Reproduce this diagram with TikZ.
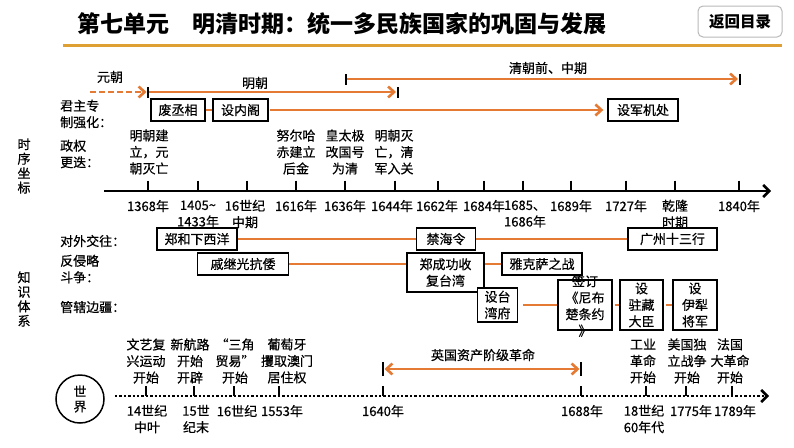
\documentclass[tikz,border=0pt]{standalone}
\usepackage{fontspec}
\newfontfamily\cjk{Noto Sans CJK SC}[FakeBold=0.5]
\newfontfamily\cjktitle{Noto Sans CJK SC}
\usetikzlibrary{arrows.meta}
\definecolor{org}{RGB}{228,122,52}
\definecolor{gold}{RGB}{222,160,50}
\begin{document}
\begin{tikzpicture}[x=1pt,y=-1pt,
  lbl/.style={font=\cjk\fontsize{13}{16.5}\selectfont, align=center, inner sep=0pt},
  vlbl/.style={font=\cjk\fontsize{13}{14.5}\selectfont, align=center, inner sep=0pt},
  bx/.style={lbl, draw=black, fill=white, line width=1.3pt, minimum height=22pt},
  oline/.style={draw=org, line width=2.6pt},
  barb/.style={-{Straight Barb[length=6pt,width=11pt]}},
  tk/.style={draw=black, line width=2.3pt},
]
\useasboundingbox[fill=white] (0,0) rectangle (794,447);

% title
\node[font=\cjktitle\bfseries\fontsize{23}{25}\selectfont, anchor=west, inner sep=0pt] (title) at (77,24) {第七单元\hspace{23pt}明清时期：统一多民族国家的巩固与发展};
\draw[gold, line width=2.8pt] (63,45.5) -- (782,45.5);
\node[draw=gray!55, rounded corners=5pt, line width=1pt, minimum width=84pt, minimum height=31pt, font=\cjktitle\bfseries\fontsize{15.5}{17}\selectfont, inner sep=0pt] (back) at (740,21.5) {返回目录};

% dynasty bars
\coordinate (ys) at (90,92);
\coordinate (ms) at (148,92);
\coordinate (me) at (398,92);
\coordinate (qs) at (346,79);
\coordinate (qe) at (740,79);
\node[lbl] (yuan) at (110,77) {元朝};
\node[lbl] (ming) at (255,83) {明朝};
\node[lbl] (qing) at (548,68) {清朝前、中期};
\draw[oline, barb, dash pattern=on 6pt off 3pt, shorten >=1.5pt] (ys) -- (ms);
\draw[oline, barb, shorten >=2pt] (ms) -- (me);
\draw[oline, barb, shorten >=2pt] (qs) -- (qe);
\draw[tk] ([yshift=-5.5pt]ms) -- ([yshift=5.5pt]ms);
\draw[tk] ([yshift=-5.5pt]me) -- ([yshift=5.5pt]me);
\draw[tk] ([yshift=-5.5pt]qs) -- ([yshift=5.5pt]qs);
\draw[tk] ([yshift=-5.5pt]qe) -- ([yshift=5.5pt]qe);

% autocracy row
\node[lbl, anchor=west, align=left] (jz) at (60,114) {君主专\\制强化：};
\node[bx, minimum width=54pt] (fcx) at (178,110) {废丞相};
\node[bx, minimum width=55pt] (snj) at (240.5,110) {设内阁};
\node[bx, minimum width=70pt] (sjj) at (643,110) {设军机处};
\draw[oline] (fcx) -- (snj);
\draw[oline, barb, shorten <=1pt, shorten >=4pt] (snj) -- (sjj);

% regime row
\node[lbl, anchor=west, align=left] (zq) at (60,154) {政权\\更迭：};
\node[vlbl] (sxzb) at (24,166) {时\\序\\坐\\标};

\node[lbl] (t1) at (149,152) {明朝建\\立，元\\朝灭亡};
\node[lbl] (t2) at (296,152) {努尔哈\\赤建立\\后金};
\node[lbl] (t3) at (345,152) {皇太极\\改国号\\为清};
\node[lbl] (t4) at (394,152) {明朝灭\\亡，清\\军入关};

% main axis
\coordinate (ax0) at (104,191);
\coordinate (ax1) at (771,191);
\draw[line width=2.6pt, -{Straight Barb[length=6pt,width=12pt]}] (ax0) -- (ax1);
\foreach \x in {148,198,247,296,345,395,438,484,523,571,626,675,739}
  \draw[tk] (\x,180.5) -- (\x,191);

\node[lbl] (d1) at (148,206) {1368年};
\node[lbl] (d2) at (198,214) {1405\textasciitilde\\1433年};
\node[lbl] (d3) at (245,214) {16世纪\\中期};
\node[lbl] (d4) at (296,206) {1616年};
\node[lbl] (d5) at (345,206) {1636年};
\node[lbl] (d6) at (392,206) {1644年};
\node[lbl] (d7) at (437,206) {1662年};
\node[lbl] (d8) at (484,206) {1684年};
\node[lbl] (d9) at (525,214) {1685、\\1686年};
\node[lbl] (d10) at (571,206) {1689年};
\node[lbl] (d11) at (626,206) {1727年};
\node[lbl] (d12) at (675,214) {乾隆\\时期};
\node[lbl] (d13) at (739,206) {1840年};

% knowledge system
\node[vlbl] (zstx) at (24,299) {知\\识\\体\\系};
\node[lbl, anchor=west] (dw) at (60,241) {对外交往：};
\node[lbl, anchor=west, align=left] (fq) at (60,269) {反侵略\\斗争：};
\node[lbl, anchor=west] (gx) at (60,307) {管辖边疆：};

\node[bx, minimum width=80pt] (zh) at (197,239) {郑和下西洋};
\node[bx, minimum width=91pt] (qjg) at (243,264) {戚继光抗倭};
\node[bx, minimum width=59pt] (jhl) at (446,239) {禁海令};
\node[bx, minimum width=77pt, minimum height=39pt] (zcg) at (445.5,272.5) {郑成功收\\复台湾};
\node[bx, minimum width=80pt] (yks) at (542,264) {雅克萨之战};
\node[bx, minimum width=40pt, minimum height=34pt] (stw) at (497.5,305) {设台\\湾府};
\node[bx, minimum width=89pt] (gz) at (672.5,239) {广州十三行};
\node[bx, minimum width=54pt, minimum height=50pt] (nbc) at (585,305) {};
\node[lbl] (nbct) at (585,306) {签订\\《尼布\\楚条约\\》};
\node[bx, minimum width=43pt, minimum height=50pt] (zz) at (641.5,305) {设\\驻藏\\大臣};
\node[bx, minimum width=44pt, minimum height=50pt] (yl) at (695,305) {设\\伊犁\\将军};

\draw[oline] (zh) -- (jhl);
\draw[oline] (jhl) -- (gz);
\draw[oline] (qjg.east) -- (qjg.east -| zcg.west);
\draw[oline] (zcg.east |- yks.west) -- (yks.west);
\draw[oline, shorten <=5pt] (stw) -- (nbc);
\draw[oline, shorten <=2pt] (nbc) -- (zz);
\draw[oline, shorten <=2pt] (zz) -- (yl);

% world
\node[draw, circle, line width=1.5pt, minimum size=48pt, vlbl, font=\cjk\fontsize{13}{15}\selectfont] (world) at (80,399) {世\\界};
\coordinate (w0) at (115,396);
\coordinate (w1) at (769,396);
\draw[line width=2.6pt, dash pattern=on 2.4pt off 2pt, -{Straight Barb[length=6pt,width=12pt]}] (w0) -- (w1);
\foreach \x in {146,194,234,279,383,581,646,686,732}
  \draw[tk] (\x,386) -- (\x,396);

\node[lbl] (u1) at (146,361) {文艺复\\兴运动\\开始};
\node[lbl] (u2) at (190,361) {新航路\\开始\\开辟};
\node[lbl] (u3) at (235,361) {“三角\\贸易”\\开始};
\node[lbl] (u4) at (287,361) {葡萄牙\\攫取澳门\\居住权};
\node[lbl] (u5) at (643,361) {工业\\革命\\开始};
\node[lbl] (u6) at (687,361) {美国独\\立战争\\开始};
\node[lbl] (u7) at (730,361) {法国\\大革命\\开始};

\node[lbl] (l1) at (147,419) {14世纪\\中叶};
\node[lbl] (l2) at (196,419) {15世\\纪末};
\node[lbl] (l3) at (237,411) {16世纪};
\node[lbl] (l4) at (282,411) {1553年};
\node[lbl] (l5) at (383,411) {1640年};
\node[lbl] (l6) at (582,411) {1688年};
\node[lbl] (l7) at (644,419) {18世纪\\60年代};
\node[lbl] (l8) at (691,411) {1775年};
\node[lbl] (l9) at (735,411) {1789年};

\node[lbl] (eng) at (483,355) {英国资产阶级革命};
\coordinate (e0) at (383,369);
\coordinate (e1) at (581,369);
\draw[oline, {Straight Barb[length=6pt,width=11pt]}-{Straight Barb[length=6pt,width=11pt]}, shorten <=1.5pt, shorten >=1.5pt] (e0) -- (e1);
\draw[tk] ([yshift=-7pt]e0) -- ([yshift=7pt]e0);
\draw[tk] ([yshift=-7pt]e1) -- ([yshift=7pt]e1);
\end{tikzpicture}
\end{document}
